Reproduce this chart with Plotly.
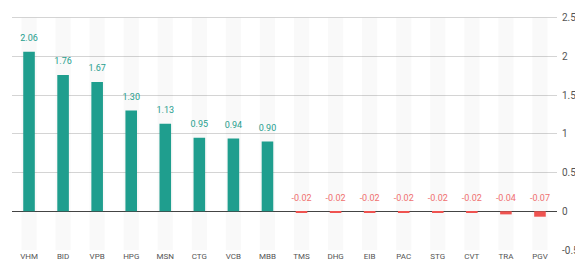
import numpy as np
import plotly.graph_objects as go

categories = ["VHM", "BID", "VPB", "HPG", "MSN", "CTG", "VCB", "MBB",
              "TMS", "DHG", "EIB", "PAC", "STG", "CVT", "TRA", "PGV"]
values = [2.06, 1.76, 1.67, 1.30, 1.13, 0.95, 0.94, 0.90,
          -0.02, -0.02, -0.02, -0.02, -0.02, -0.02, -0.04, -0.07]
y_min, y_max = -0.5, 2.5
y_ticks = [-0.5, 0, 0.5, 1, 1.5, 2, 2.5]
y_tick_labels = ["-0.5", "0", "0.5", "1", "1.5", "2", "2.5"]

UP = "#1f9e8e"
DOWN = "#ef5350"
UP_TXT = "#1f9e8e"
DOWN_TXT = "#f07070"
FONT = "Liberation Sans Narrow, Roboto, sans-serif"

colors = [UP if v >= 0 else DOWN for v in values]
txt_colors = [UP_TXT if v >= 0 else DOWN_TXT for v in values]
labels = [f"{v:.2f}" for v in values]

fig = go.Figure()
# background bands
fig.add_trace(go.Bar(
    x=categories, y=[y_max - y_min] * len(categories), base=[y_min] * len(categories),
    marker=dict(color="rgba(0,0,0,0.022)", line=dict(width=0)), width=0.45,
    hoverinfo="skip", showlegend=False,
))
fig.add_trace(go.Bar(
    x=categories, y=values, marker=dict(color=colors, line=dict(width=0)),
    width=0.34, showlegend=False,
))
fig.add_trace(go.Scatter(
    x=categories, y=np.maximum(values, 0), mode="markers+text", text=labels,
    textposition="top center",
    marker=dict(size=12, opacity=0),
    textfont=dict(size=9, color=txt_colors, family=FONT),
    showlegend=False, hoverinfo="skip",
))

fig.update_layout(
    width=575, height=277,
    margin=dict(l=12, r=18, t=13, b=27),
    paper_bgcolor="white", plot_bgcolor="white",
    barmode="overlay",
    font=dict(family=FONT, size=9, color="#555"),
    xaxis=dict(showgrid=False, showline=False, ticks="", tickfont=dict(size=8, color="#555"),
               range=[-0.5, len(categories) - 0.5], automargin=False, fixedrange=True),
    yaxis=dict(side="right", range=[y_min, 2.56], tickvals=y_ticks,
               ticktext=y_tick_labels,
               showgrid=True, gridcolor="#d4d4d4", gridwidth=1,
               zeroline=True, zerolinecolor="#444", zerolinewidth=1.3,
               showline=False, ticks="", tickfont=dict(size=10, color="#555"),
               ticklabelstandoff=4, automargin=False),
)

fig.write_html("out.html", config={"displayModeBar": False},
               post_script="document.body.style.margin='0';")
